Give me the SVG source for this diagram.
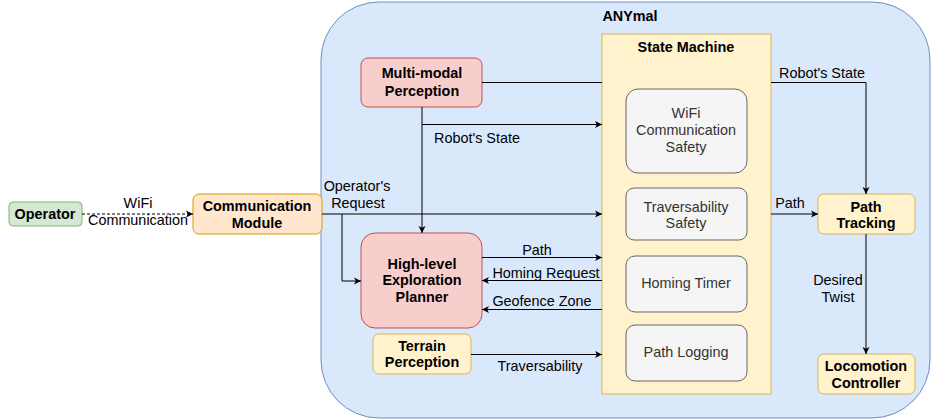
<svg xmlns="http://www.w3.org/2000/svg" width="931" height="420" viewBox="0 0 931 420">
<defs>
<marker id="arr" viewBox="0 0 8 8" refX="7" refY="4" markerWidth="8" markerHeight="8" markerUnits="userSpaceOnUse" orient="auto">
<path d="M0,0.5 L7,4 L0,7.5 L1.8,4 Z" fill="#000"/>
</marker>
<style>
text{font-family:"Liberation Sans",Arial,sans-serif;font-size:14.4px;fill:#000;text-anchor:middle}
.b{font-weight:bold}
.g{fill:#333}
.y{fill:#fff2cc;stroke:#d6b656}
.r{fill:#f8cecc;stroke:#b85450}
.o{fill:#ffe6cc;stroke:#d79b00}
.gr{fill:#d5e8d4;stroke:#82b366}
.in{fill:#f5f5f5;stroke:#666}
.e{fill:none;stroke:#000;stroke-width:1}
.a{marker-end:url(#arr)}
</style>
</defs>
<g id="anymal">
<rect x="321" y="2" width="609" height="416" rx="58" fill="#dae8fc" stroke="#6c8ebf"/>
<text class="b" x="630" y="21">ANYmal</text>
</g>
<g id="state-machine">
<rect class="y" x="602" y="34" width="169" height="360"/>
<text class="b" x="686" y="52">State Machine</text>
</g>
<g id="wifi-safety">
<rect class="in" x="626" y="89" width="121" height="84" rx="12"/>
<text class="g" x="686" y="118">WiFi</text>
<text class="g" x="686" y="135">Communication</text>
<text class="g" x="686" y="152">Safety</text>
</g>
<g id="trav-safety">
<rect class="in" x="626" y="188" width="121" height="52" rx="8"/>
<text class="g" x="686" y="212">Traversability</text>
<text class="g" x="686" y="228">Safety</text>
</g>
<g id="homing-timer">
<rect class="in" x="626" y="256" width="121" height="56" rx="9"/>
<text class="g" x="686" y="288">Homing Timer</text>
</g>
<g id="path-logging">
<rect class="in" x="626" y="325" width="121" height="56" rx="9"/>
<text class="g" x="686" y="357">Path Logging</text>
</g>
<g id="path-tracking">
<rect class="y" x="818" y="194" width="97" height="40" rx="6"/>
<text class="b" x="866" y="212">Path</text>
<text class="b" x="866" y="228">Tracking</text>
</g>
<g id="locomotion">
<rect class="y" x="818" y="354" width="97" height="40" rx="6"/>
<text class="b" x="866" y="371">Locomotion</text>
<text class="b" x="866" y="388">Controller</text>
</g>
<g id="operator">
<rect class="gr" x="9" y="202" width="73" height="24" rx="4"/>
<text class="b" x="45" y="219">Operator</text>
</g>
<g id="comm-module">
<rect class="o" x="193" y="194" width="129" height="40" rx="6"/>
<text class="b" x="257" y="211">Communication</text>
<text class="b" x="257" y="228">Module</text>
</g>
<g id="perception">
<rect class="r" x="361" y="58" width="121" height="49" rx="7"/>
<text class="b" x="422" y="78">Multi-modal</text>
<text class="b" x="422" y="96">Perception</text>
</g>
<g id="planner">
<rect class="r" x="361" y="233" width="121" height="95" rx="14"/>
<text class="b" x="422" y="269">High-level</text>
<text class="b" x="422" y="285">Exploration</text>
<text class="b" x="422" y="302">Planner</text>
</g>
<g id="terrain">
<rect class="y" x="373" y="334" width="98" height="40" rx="6"/>
<text class="b" x="422" y="351">Terrain</text>
<text class="b" x="422" y="367">Perception</text>
</g>
<g id="connectors">
<path class="e a" d="M82,214 H193" stroke-dasharray="3,2"/>
<text x="138" y="208">WiFi</text>
<text x="138" y="225">Communication</text>
<path class="e a" d="M322,214 H602"/>
<path class="e a" d="M342,214 V281 H361"/>
<text x="357" y="191">Operator's</text>
<text x="358" y="208">Request</text>
<path class="e" d="M482,82.5 H602"/>
<path class="e a" d="M771,82.5 H866 V194"/>
<text x="822" y="78">Robot's State</text>
<path class="e a" d="M422,107 V233"/>
<path class="e a" d="M422,124.5 H602"/>
<text x="477" y="143">Robot's State</text>
<path class="e a" d="M482,257.5 H602"/>
<text x="537" y="255">Path</text>
<path class="e a" d="M602,280.5 H482"/>
<text x="546" y="278">Homing Request</text>
<path class="e a" d="M602,309.5 H482"/>
<text x="542" y="306">Geofence Zone</text>
<path class="e a" d="M471,354.5 H602"/>
<text x="540" y="371">Traversability</text>
<path class="e a" d="M771,214 H818"/>
<text x="790" y="208">Path</text>
<path class="e a" d="M866,234 V354"/>
<text x="838" y="285">Desired</text>
<text x="838" y="302">Twist</text>
</g>
</svg>
